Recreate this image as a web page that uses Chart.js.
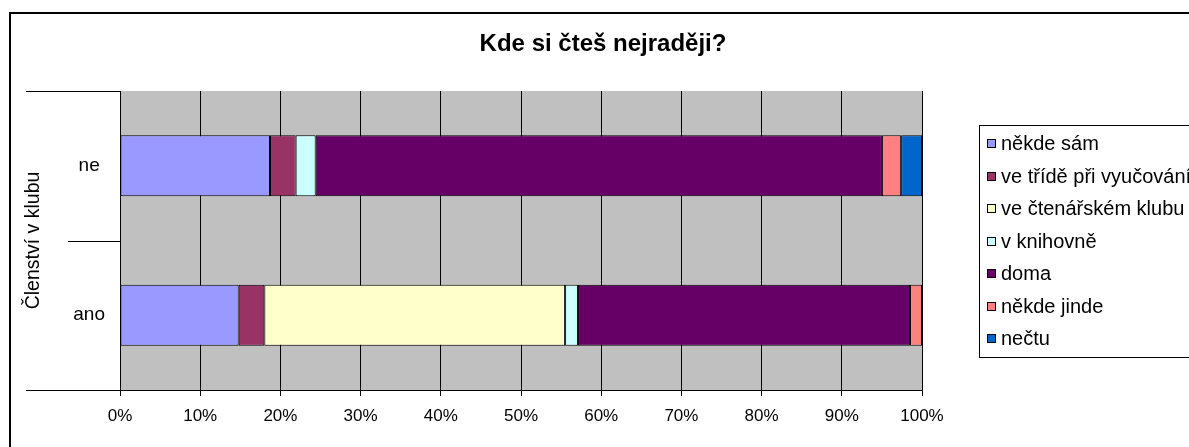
<!DOCTYPE html>
<html lang="cs">
<head>
<meta charset="UTF-8">
<title>Kde si čteš nejraději?</title>
<script src="https://cdn.jsdelivr.net/npm/chart.js"></script>
<style>
  body { margin: 0; background: #fff; }
  #wrap { width: 1189px; height: 447px; }
</style>
</head>
<body>
<div id="wrap"><canvas id="chart" width="1189" height="447"></canvas></div>
<script>
// Kategorie osy Y ("ne" nahoře)
const categories = ['ne', 'ano'];

// Řady a jejich barvy (Excel paleta)
const seriesNames = ['někde sám', 've třídě při vyučování', 've čtenářském klubu', 'v knihovně', 'doma', 'někde jinde', 'nečtu'];
const seriesColors = ['#9999FF', '#993366', '#FFFFCC', '#CCFFFF', '#660066', '#FF8080', '#0066CC'];

// Podíly v %: [ne, ano]
const nekdeSam = [18.7, 14.8];
const veTride = [3.2, 3.2];
const veKlubu = [0, 37.5];
const vKnihovne = [2.5, 1.6];
const doma = [70.6, 41.4];
const nekdeJinde = [2.4, 1.5];
const nectu = [2.6, 0];

// Popisky osy X
const xTicks = [0, 10, 20, 30, 40, 50, 60, 70, 80, 90, 100];

const seriesValues = [nekdeSam, veTride, veKlubu, vKnihovne, doma, nekdeJinde, nectu];

const FONT = '"Liberation Sans", Arial, sans-serif';
Chart.defaults.font.family = FONT;
Chart.defaults.font.size = 17;
Chart.defaults.color = '#000';

// Šedé pozadí grafu + rámeček celého obrázku
const plotBackground = {
  id: 'plotBackground',
  beforeDraw(chart) {
    const { ctx, chartArea: a } = chart;
    ctx.save();
    ctx.fillStyle = '#C0C0C0';
    ctx.fillRect(a.left, a.top, a.right - a.left, a.bottom - a.top);
    ctx.strokeStyle = '#000';
    ctx.lineWidth = 2;
    ctx.strokeRect(10, 13, 1300, 600);
    ctx.restore();
  }
};

// Nadpis grafu
const chartTitle = {
  id: 'chartTitle',
  afterDraw(chart) {
    const ctx = chart.ctx;
    ctx.save();
    ctx.font = 'bold 24px ' + FONT;
    ctx.fillStyle = '#000';
    ctx.textAlign = 'center';
    ctx.textBaseline = 'middle';
    ctx.fillText('Kde si čteš nejraději?', 603, 44);
    ctx.restore();
  }
};

// Čáry oddělující kategorie vlevo od osy (víceúrovňové popisky jako v Excelu)
const categoryDividers = {
  id: 'categoryDividers',
  afterDraw(chart) {
    const { ctx, chartArea: a, scales } = chart;
    const y = scales.y;
    const mid = (y.getPixelForValue(0) + y.getPixelForValue(1)) / 2;
    ctx.save();
    ctx.strokeStyle = '#000';
    ctx.lineWidth = 1;
    ctx.beginPath();
    ctx.moveTo(26, Math.round(a.top) + 0.5); ctx.lineTo(a.left, Math.round(a.top) + 0.5);
    ctx.moveTo(68, Math.round(mid) + 0.5); ctx.lineTo(a.left, Math.round(mid) + 0.5);
    ctx.moveTo(26, Math.round(a.bottom) + 0.5); ctx.lineTo(a.left, Math.round(a.bottom) + 0.5);
    ctx.stroke();
    ctx.restore();
  }
};

// Legenda vpravo (oříznutá okrajem obrázku)
const sideLegend = {
  id: 'sideLegend',
  afterDraw(chart) {
    const ctx = chart.ctx;
    ctx.save();
    ctx.strokeStyle = '#000';
    ctx.lineWidth = 1;
    ctx.strokeRect(979.5, 125.5, 400, 232);
    ctx.font = '20px ' + FONT;
    ctx.textBaseline = 'middle';
    ctx.textAlign = 'left';
    chart.data.datasets.forEach((ds, i) => {
      const yy = Math.round(144 + i * 32.5);
      ctx.fillStyle = ds.backgroundColor;
      ctx.fillRect(987.5, yy - 4.5, 8, 8);
      ctx.strokeRect(987.5, yy - 4.5, 8, 8);
      ctx.fillStyle = '#000';
      ctx.fillText(ds.label, 1001, yy);
    });
    ctx.restore();
  }
};

new Chart(document.getElementById('chart'), {
  type: 'bar',
  data: {
    labels: categories,
    datasets: seriesNames.map((name, i) => ({
      label: name,
      data: seriesValues[i],
      backgroundColor: seriesColors[i],
      borderColor: '#000',
      borderWidth: 1,
      borderSkipped: false,
      categoryPercentage: 0.8,
      barPercentage: 0.51
    }))
  },
  options: {
    indexAxis: 'y',
    responsive: false,
    animation: false,
    layout: { padding: { left: 10, right: 267, top: 91, bottom: 18 } },
    plugins: {
      legend: { display: false },
      title: { display: false },
      tooltip: { enabled: false }
    },
    scales: {
      x: {
        stacked: true,
        min: 0,
        max: 100,
        afterFit(scale) { scale.height = 39; },
        afterBuildTicks(scale) { scale.ticks = xTicks.map(v => ({ value: v })); },
        ticks: {
          padding: 10,
          maxRotation: 0,
          autoSkip: false,
          callback: v => v + '%'
        },
        grid: { color: '#000', lineWidth: 1, tickLength: 6 },
        border: { color: '#000', width: 1 }
      },
      y: {
        stacked: true,
        afterFit(scale) { scale.width = 110; },
        ticks: { crossAlign: 'center', padding: 15, font: { size: 19 } },
        grid: { display: false, drawTicks: false },
        border: { color: '#000', width: 1 },
        title: {
          display: true,
          text: 'Členství v klubu',
          padding: { top: 12, bottom: 0 },
          font: { size: 19.5 }
        }
      }
    }
  },
  plugins: [plotBackground, chartTitle, categoryDividers, sideLegend]
});
</script>
</body>
</html>
